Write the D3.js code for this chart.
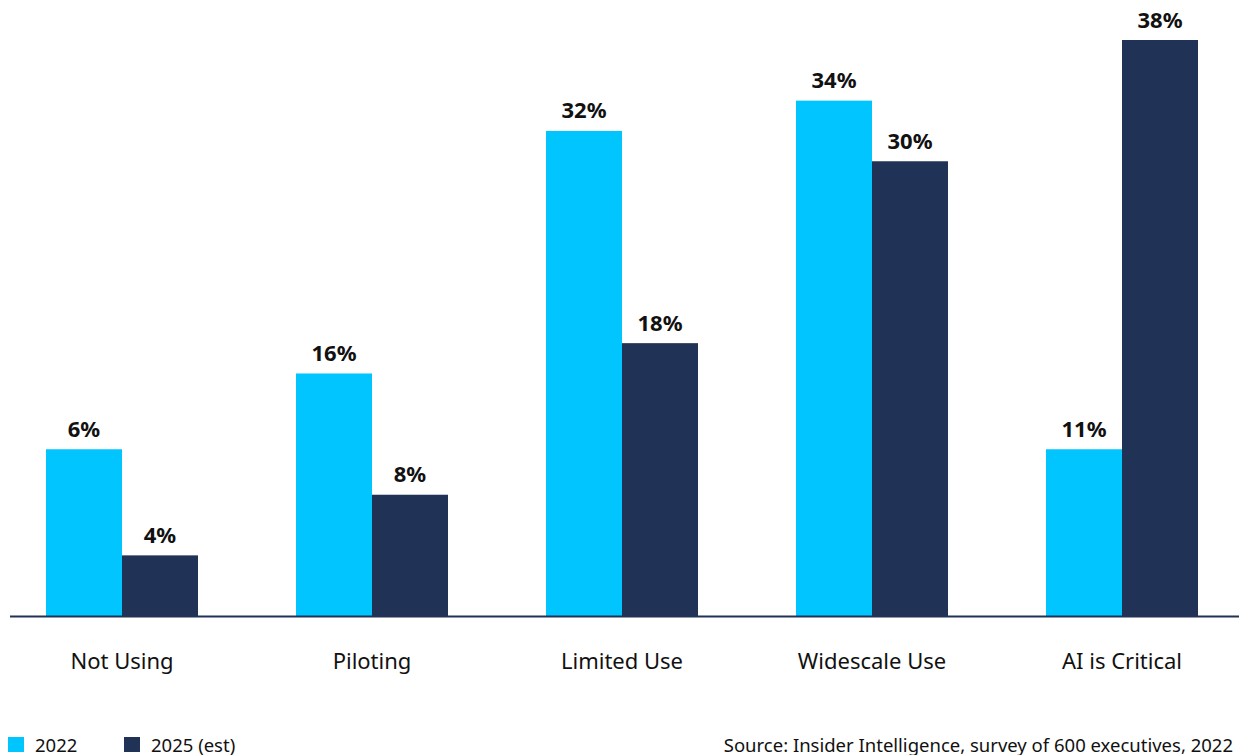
<!DOCTYPE html>
<meta charset="utf-8">
<style>
body { margin: 0; background: #fff; }
text { font-family: "Source Sans Pro", "Noto Sans", sans-serif; fill: #111; }
.value { font-weight: bold; font-size: 22px; }
.cat { font-size: 22px; }
.legend, .source { font-size: 18.5px; }
</style>
<svg width="1239" height="755"></svg>
<script src="https://d3js.org/d3.v7.min.js"></script>
<script>
var categories = ["Not Using", "Piloting", "Limited Use", "Widescale Use", "AI is Critical"];
var seriesNames = ["2022", "2025 (est)"];
// bar heights as drawn in the picture (the first 2022 bar is drawn at the 11% level)
var values2022 = [11, 16, 32, 34, 11];
var values2025 = [4, 8, 18, 30, 38];
var labels2022 = ["6%", "16%", "32%", "34%", "11%"];
var labels2025 = ["4%", "8%", "18%", "30%", "38%"];
var colors = ["#00c5ff", "#213257"];

var svg = d3.select("svg"),
    baseY = 616;

var x0 = d3.scaleBand()
    .domain(categories)
    .range([-3, 1247])
    .paddingInner(0.392)
    .paddingOuter(0.196);

var x1 = d3.scaleBand()
    .domain(seriesNames)
    .range([0, x0.bandwidth()]);

var y = d3.scaleLinear()
    .domain([0, 38])
    .range([baseY, 40]);

var rows = categories.map(function(c, i) {
  return {
    cat: c,
    bars: [
      { s: seriesNames[0], v: values2022[i], label: labels2022[i] },
      { s: seriesNames[1], v: values2025[i], label: labels2025[i] }
    ]
  };
});

var group = svg.append("g").selectAll("g")
  .data(rows)
  .enter().append("g")
    .attr("transform", function(d) { return "translate(" + x0(d.cat) + ",0)"; });

group.selectAll("rect")
  .data(function(d) { return d.bars; })
  .enter().append("rect")
    .attr("x", function(d) { return x1(d.s); })
    .attr("y", function(d) { return y(d.v); })
    .attr("width", x1.bandwidth())
    .attr("height", function(d) { return baseY - y(d.v); })
    .attr("fill", function(d, i) { return colors[i]; });

group.selectAll("text.value")
  .data(function(d) { return d.bars; })
  .enter().append("text")
    .attr("class", "value")
    .attr("x", function(d) { return x1(d.s) + x1.bandwidth() / 2; })
    .attr("y", function(d) { return y(d.v) - 12.5; })
    .attr("text-anchor", "middle")
    .text(function(d) { return d.label; });

// baseline
svg.append("line")
    .attr("x1", 10).attr("x2", 1239)
    .attr("y1", baseY + 0.5).attr("y2", baseY + 0.5)
    .attr("stroke", "#213257")
    .attr("stroke-width", 2);

// category axis
var axis = svg.append("g")
    .attr("transform", "translate(0," + baseY + ")")
    .call(d3.axisBottom(x0).tickSize(0).tickPadding(37));
axis.select(".domain").remove();
axis.selectAll("text")
    .attr("class", "cat")
    .attr("font-size", null)
    .attr("font-family", null)
    .attr("fill", "#111");

// legend
var legendX = [8, 124];
var legend = svg.append("g").selectAll("g")
  .data(seriesNames)
  .enter().append("g")
    .attr("transform", function(d, i) { return "translate(" + legendX[i] + ",737)"; });
legend.append("rect")
    .attr("width", 16).attr("height", 15)
    .attr("fill", function(d, i) { return colors[i]; });
legend.append("text")
    .attr("class", "legend")
    .attr("x", 27)
    .attr("y", 14.5)
    .text(function(d) { return d; });

svg.append("text")
    .attr("class", "source")
    .attr("x", 1233)
    .attr("y", 751.5)
    .attr("text-anchor", "end")
    .text("Source: Insider Intelligence, survey of 600 executives, 2022");
</script>
